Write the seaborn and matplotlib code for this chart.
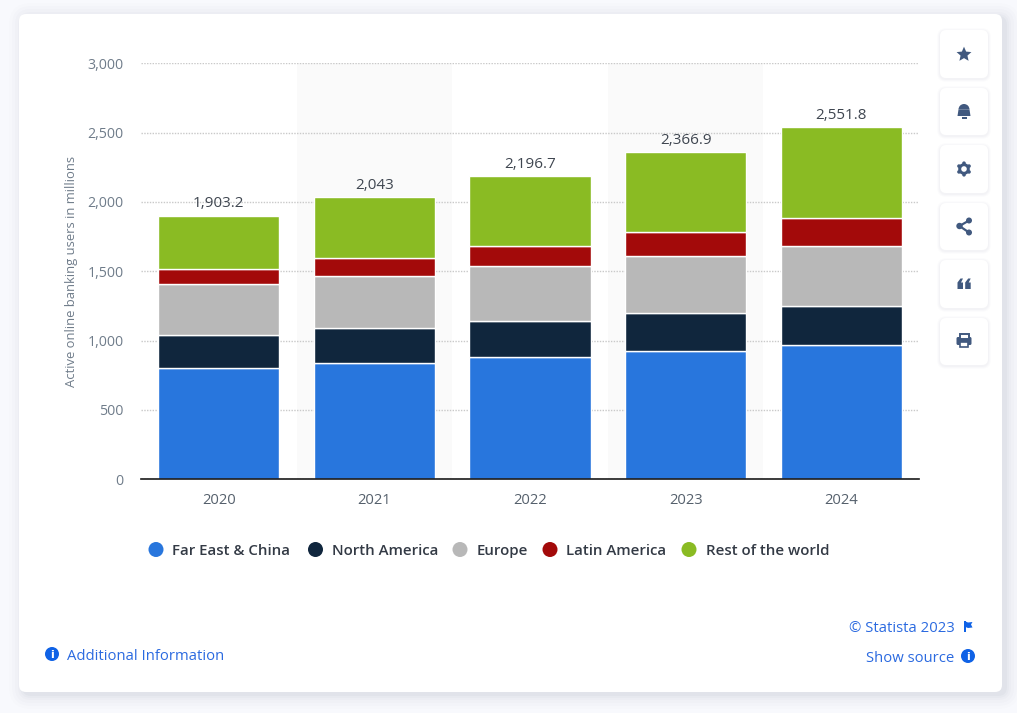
import math
import matplotlib
matplotlib.use("Agg")
import matplotlib.pyplot as plt
import seaborn as sns
import pandas as pd
from matplotlib.patches import FancyBboxPatch, Circle, Rectangle, Polygon, Wedge

years = ["2020", "2021", "2022", "2023", "2024"]
far_east = [804, 838, 883, 927, 972]
north_america = [240, 252, 262, 271, 279]
europe = [361, 377, 395, 414, 433]
latin_america = [108, 130, 144, 173, 202]
rest_world = [387, 438, 502, 575, 654]
total_labels = ["1,903.2", "2,043", "2,196.7", "2,366.9", "2,551.8"]
series_names = ["Far East & China", "North America", "Europe", "Latin America", "Rest of the world"]
series_values = [far_east, north_america, europe, latin_america, rest_world]
series_colors = ["#2876DD", "#10263D", "#B8B8B8", "#A30A0A", "#8ABB23"]
y_ticks = [0, 500, 1000, 1500, 2000, 2500, 3000]
y_label = "Active online banking users in millions"

W, H = 1017, 713
sns.set_theme(style="white")
FONT = ["Open Sans", "DejaVu Sans"]
plt.rcParams["font.family"] = FONT

fig = plt.figure(figsize=(W / 100, H / 100), dpi=100, facecolor="#F8F9FD")

# page background and card
bg = fig.add_axes([0, 0, 1, 1], zorder=0)
bg.set_xlim(0, W); bg.set_ylim(H, 0); bg.axis("off")
for grow, alpha in [(14, .008), (11, .012), (8, .015), (5, .02), (3, .025), (1, .03)]:
    bg.add_patch(FancyBboxPatch((19 - grow + 4, 14 - grow + 3), 983 + 2 * grow, 678 + 2 * grow,
                                boxstyle=f"round,pad=0,rounding_size={8 + grow}",
                                fc="#39456A", ec="none", alpha=alpha))
bg.add_patch(FancyBboxPatch((19, 14), 983, 678, boxstyle="round,pad=0,rounding_size=7",
                            fc="white", ec="none"))

# chart
left, right, top, bottom = 141, 919, 63.3, 479.3
ax = fig.add_axes([left / W, 1 - bottom / H, (right - left) / W, (bottom - top) / H], zorder=1)
ax.patch.set_alpha(0)

df = pd.DataFrame({"year": years})
base = [0.0] * len(years)
for name, values, color in zip(series_names, series_values, series_colors):
    sns.barplot(data=df.assign(v=values), x="year", y="v", ax=ax, color=color, width=0.778,
                bottom=base, saturation=1, edgecolor="white", linewidth=1, zorder=3, errorbar=None)
    base = [b + v for b, v in zip(base, values)]

ax.set_xlim(-0.5, 4.5)
ax.set_ylim(0, 3000)
ax.set_yticks(y_ticks)
ax.set_yticklabels([f"{t:,}" for t in y_ticks], fontsize=10.2, color="#6F7C8A")
ax.tick_params(axis="y", length=0, pad=12.5)
ax.tick_params(axis="x", length=0, pad=9.8, labelsize=10.6, labelcolor="#55606C")
ax.set_xlabel("")
ax.set_ylabel("")
ax.grid(axis="y", color="#C9C9C9", linestyle=(0, (1, 1)), linewidth=1, zorder=1)
ax.set_axisbelow(True)
for s in ["top", "left", "right"]:
    ax.spines[s].set_visible(False)
ax.spines["bottom"].set_color("#1A1A1A")
ax.spines["bottom"].set_linewidth(1.2)
ax.spines["bottom"].set_zorder(5)
for i in (1, 3):
    ax.axvspan(i - 0.5, i + 0.5, color="#FAFAFA", lw=0, zorder=0)

for i, (t, lab) in enumerate(zip(base, total_labels)):
    ax.annotate(lab, (i, t), xytext=(0, 8.6), textcoords="offset points", ha="center", va="center",
                fontsize=11, color="#3F4650", zorder=6)

# overlay in pixel coordinates
ov = fig.add_axes([0, 0, 1, 1], zorder=2)
ov.set_xlim(0, W); ov.set_ylim(H, 0); ov.axis("off"); ov.patch.set_alpha(0)

ov.text(71.5, 271.5, y_label, rotation=90, ha="center", va="center", fontsize=9.4, color="#6F7C8A")

# legend
circle_x = [156, 315.5, 460, 550, 689]
label_x = [172.5, 331.5, 477, 566, 705.5]
for cx, lx, name, color in zip(circle_x, label_x, series_names, series_colors):
    ov.add_patch(Circle((cx, 549.5), 7.5, fc=color, ec="none"))
    ov.text(lx, 555, name, ha="left", va="baseline", fontsize=10.85, fontweight=600, color="#333A45")

# side buttons
btn_y = [30, 88, 145, 203, 260, 318]
btn_h = [48, 47, 48, 47, 48, 47]
ICON = "#41597F"
for y, h in zip(btn_y, btn_h):
    for g, a in [(3, .012), (2, .018), (1, .025)]:
        ov.add_patch(FancyBboxPatch((940 - g, y - g + 1), 48 + 2 * g, h + 2 * g,
                                    boxstyle=f"round,pad=0,rounding_size={6 + g}",
                                    fc="#39456A", ec="none", alpha=a))
    ov.add_patch(FancyBboxPatch((940, y), 48, h, boxstyle="round,pad=0,rounding_size=6",
                                fc="white", ec="none"))
ix = 964
# star
star = []
for k in range(10):
    r = 7.8 if k % 2 == 0 else 3.6
    a = math.radians(-90 + 36 * k)
    star.append((ix + r * math.cos(a), 54.5 + r * math.sin(a)))
ov.add_patch(Polygon(star, fc=ICON, ec="none"))
# bell
ov.add_patch(Wedge((ix, 109.5), 5.5, 180, 360, fc=ICON, ec="none"))
ov.add_patch(Polygon([(ix - 5.5, 109.5), (ix + 5.5, 109.5), (ix + 6.5, 116), (ix - 6.5, 116)], fc=ICON, ec="none"))
ov.add_patch(Rectangle((ix - 2.5, 117.3), 5, 1.4, fc=ICON, ec="none"))
# gear
ov.add_patch(Circle((ix, 169), 5.8, fc=ICON, ec="none"))
for k in range(6):
    a = math.radians(30 + 60 * k)
    ov.add_patch(Circle((ix + 5.8 * math.cos(a), 169 + 5.8 * math.sin(a)), 1.8, fc=ICON, ec="none"))
ov.add_patch(Circle((ix, 169), 2.8, fc="white", ec="none", zorder=5))
# share
ov.plot([ix + 5, ix - 4.5, ix + 5], [220.5, 226, 232.5], color=ICON, lw=1.6)
for px, py, r in [(ix + 5, 220.5, 3), (ix - 4.5, 226, 3.2), (ix + 5, 232.5, 3)]:
    ov.add_patch(Circle((px, py), r, fc=ICON, ec="none"))
# quote
for qx in (ix - 6.5, ix + 1.2):
    ov.add_patch(Polygon([(qx, 289), (qx, 282.5), (qx + 3, 278.5), (qx + 5.5, 278.5), (qx + 3.5, 282.5),
                          (qx + 5.5, 282.5), (qx + 5.5, 289)], fc=ICON, ec="none"))
# print
ov.add_patch(FancyBboxPatch((ix - 7.5, 337), 15, 8, boxstyle="round,pad=0,rounding_size=1.5", fc=ICON, ec="none"))
ov.add_patch(Rectangle((ix - 4.5, 334), 9, 5, fc="white", ec=ICON, lw=1.4))
ov.add_patch(Rectangle((ix - 4, 342), 8, 5, fc="white", ec=ICON, lw=1.2))

# footer
LINK = "#2B6AE0"
INFO = "#0F62E6"
def info(cx, cy):
    ov.add_patch(Circle((cx, cy), 7, fc=INFO, ec="none"))
    ov.text(cx, cy + 0.2, "i", ha="center", va="center_baseline", fontsize=8, fontweight="bold", color="white",
            family=["DejaVu Sans"])
info(52, 654)
ov.text(67, 660, "Additional Information", ha="left", va="baseline", fontsize=10.75, color=LINK)
ov.text(955, 632, "© Statista 2023", ha="right", va="baseline", fontsize=10.75, color=LINK)
ov.text(954, 662, "Show source", ha="right", va="baseline", fontsize=10.75, color=LINK)
info(968, 656)
ov.add_patch(Rectangle((964, 621), 1.6, 11, fc=INFO, ec="none"))
ov.add_patch(Polygon([(965.5, 621.5), (968, 622.5), (972.5, 622), (971, 624.5), (972.5, 627.5), (968, 628), (965.5, 627)],
                     fc=INFO, ec="none"))

fig.savefig("out.png", dpi=100, facecolor=fig.get_facecolor())
